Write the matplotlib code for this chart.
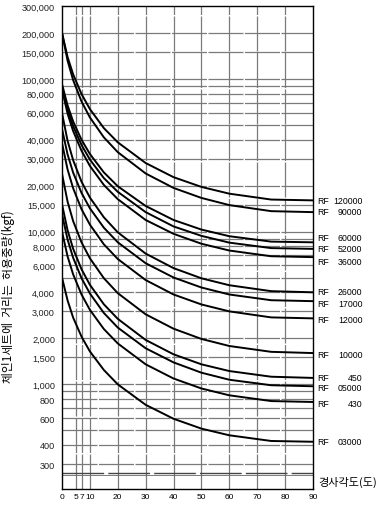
import numpy as np
import matplotlib
matplotlib.use('Agg')
import matplotlib.pyplot as plt
from matplotlib.ticker import NullLocator

plt.rcParams['font.family'] = ['Liberation Sans', 'DejaVu Sans']
KR = ['Noto Sans CJK KR', 'DejaVu Sans']

# angle of inclination (deg) and allowable load per chain set (kgf)
deg = [0, 2, 4, 7, 10, 15, 20, 30, 40, 50, 60, 75, 90]

rf_120000 = [200000, 139000, 107000, 79500, 63400, 47600, 38400, 28100, 22700, 19600, 17700, 16200, 16000]
rf_90000 = [200000, 131500, 98100, 71100, 55900, 41400, 33100, 24000, 19300, 16600, 14900, 13600, 13400]
rf_60000 = [92400, 67000, 52600, 39900, 32200, 24400, 19800, 14700, 11900, 10300, 9320, 8590, 8500]
rf_52000 = [88000, 63000, 49000, 36900, 29600, 22400, 18200, 13400, 10800, 9370, 8460, 7790, 7700]
rf_36000 = [85000, 59200, 45500, 33800, 26900, 20200, 16300, 11900, 9660, 8320, 7510, 6890, 6800]
rf_26000 = [59700, 39300, 29300, 21200, 16700, 12400, 9880, 7170, 5760, 4940, 4450, 4070, 4000]
rf_17000 = [47000, 32000, 24300, 17900, 14200, 10600, 8500, 6200, 5000, 4300, 3870, 3550, 3500]
rf_12000 = [38000, 25500, 19200, 14000, 11100, 8250, 6610, 4810, 3870, 3330, 3000, 2740, 2700]
rf_10000 = [23900, 15700, 11700, 8490, 6680, 4950, 3950, 2870, 2310, 1980, 1780, 1630, 1600]
rf_450 = [15100, 10200, 7710, 5660, 4480, 3340, 2680, 1950, 1570, 1350, 1220, 1120, 1100]
rf_05000 = [13000, 8870, 6730, 4950, 3930, 2930, 2350, 1720, 1390, 1190, 1070, 985, 970]
rf_430 = [10000, 6870, 5240, 3870, 3070, 2300, 1850, 1350, 1090, 938, 846, 776, 765]
rf_03000 = [5000, 3540, 2730, 2050, 1640, 1240, 998, 733, 594, 512, 463, 425, 420]

series = [rf_120000, rf_90000, rf_60000, rf_52000, rf_36000, rf_26000, rf_17000,
          rf_12000, rf_10000, rf_450, rf_05000, rf_430, rf_03000]
names = ['120000', '90000', '60000', '52000', '36000', '26000', '17000',
         '12000', '10000', '450', '05000', '430', '03000']
label_nudge = [0, 1, 5, 0, -4, 1, -2, -1, -1, 0, -1, -2, 0]   # px

xticks = [0, 5, 7, 10, 20, 30, 40, 50, 60, 70, 80, 90]
yticks = [300, 400, 600, 800, 1000, 1500, 2000, 3000, 4000, 6000, 8000, 10000,
          15000, 20000, 30000, 40000, 60000, 80000, 100000, 150000, 200000, 300000]
grid_x = [5, 7, 10, 20, 30, 40, 50, 60, 70, 80]
grid_y = [m * 10 ** k for k in range(2, 6) for m in [1, 1.5, 2, 3, 4, 5, 6, 7, 8, 9]]
grid_y = [v for v in grid_y if 300 <= v < 300000]

fig = plt.figure(figsize=(3.84, 5.10), dpi=100)
ax = fig.add_axes([62/384, 1-490/510, (313-62)/384, (490-7)/510])
ax.set_yscale('log')
ax.set_xlim(0, 90)
ax.set_ylim(206, 300000)

gstyle = dict(color='#7a7a7a', lw=0.9, ls=(0, (28, 1.2)), zorder=1)
for g in grid_x:
    ax.axvline(g, **gstyle)
for v in grid_y:
    ax.axhline(v, **gstyle)
# axis break strip under 300
ax.axhline(262, color='#444444', lw=1.0, ls=(0, (30, 3)), zorder=1)
ax.axhline(254, color='#666666', lw=0.6, zorder=1)

for vals in series:
    ax.plot(deg, vals, color='black', lw=1.4, zorder=3)

for vals, name, dy in zip(series, names, label_nudge):
    ax.annotate('RF', xy=(90, vals[-1]), xytext=(3, dy * 0.72), textcoords='offset points',
                ha='left', va='center', fontsize=6.3, annotation_clip=False)
    ax.annotate(name, xy=(90, vals[-1]), xytext=(35.5, dy * 0.72), textcoords='offset points',
                ha='right', va='center', fontsize=6.3, annotation_clip=False)

ax.set_xticks(xticks)
ax.set_xticklabels([str(t) for t in xticks])
ax.set_yticks(yticks)
ax.set_yticklabels([f'{t:,}' for t in yticks])
ax.yaxis.set_minor_locator(NullLocator())
ax.tick_params(axis='both', length=0)
ax.tick_params(axis='x', labelsize=6, pad=3)
ax.tick_params(axis='y', labelsize=6.6, pad=5, colors='#222222')
for sp in ax.spines.values():
    sp.set_linewidth(1.0)
    sp.set_color('black')

fig.text(318/384, 1-482/510, '경사각도(도)', family=KR, fontsize=8, ha='left', va='center')
fig.text(8/384, 1-297/510, '체인1세트에  거리는  허용중량(kgf)', family=KR, fontsize=8.5,
         rotation=90, ha='center', va='center')

fig.savefig('out.png', dpi=100, facecolor='white')
